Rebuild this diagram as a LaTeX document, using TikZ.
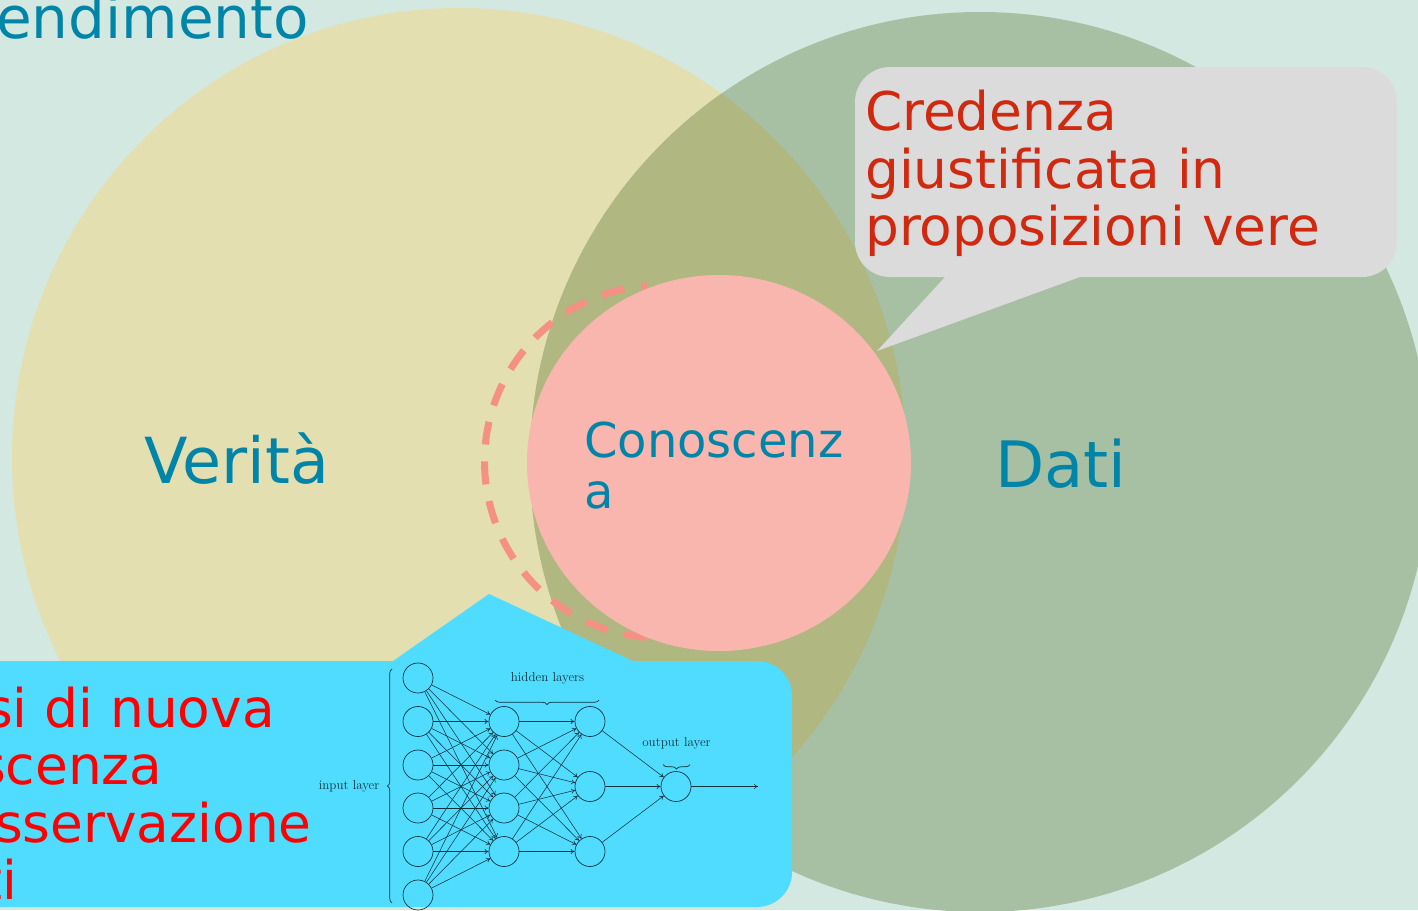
\documentclass[tikz,border=0pt]{standalone}
\usepackage{fontspec}
\setmainfont{DejaVu Sans}
\newfontfamily\lmfont{Latin Modern Roman}
\usetikzlibrary{decorations.pathreplacing,arrows.meta}
\definecolor{bgc}{HTML}{D2E8E1}
\definecolor{leftc}{HTML}{E4DFB0}
\definecolor{rightc}{HTML}{A7BFA3}
\definecolor{overc}{HTML}{B1B781}
\definecolor{pinkc}{HTML}{F8B6AE}
\definecolor{dashc}{HTML}{F59184}
\definecolor{bluec}{HTML}{50DCFF}
\definecolor{greyc}{HTML}{DBDBDB}
\definecolor{tealc}{HTML}{0085A8}
\definecolor{redc}{HTML}{D0290F}
\definecolor{netc}{HTML}{10333F}
\tikzset{
  lbl/.style={inner sep=0pt,anchor=base west,text=tealc},
  multi/.style={inner sep=0pt,anchor=north west,align=left},
  neuron/.style={circle,draw=netc,line width=0.7pt,minimum size=30pt,inner sep=0pt},
  link/.style={draw=netc,line width=0.55pt,-{To[length=4pt,width=5pt]}},
  netlabel/.style={inner sep=0pt,text=netc,font=\lmfont\fontsize{13}{15}\selectfont},
  bracket/.style={draw=netc,line width=0.7pt,decorate},
  redline/.style={lbl,text=red,font=\fontsize{53.3}{57.5}\selectfont},
}
\begin{document}
\begin{tikzpicture}[x=1pt,y=-1pt]
\clip (0,0) rectangle (1418,910);
\fill[bgc] (0,0) rectangle (1418,910);
% big ellipses
\fill[leftc] (459,457.5) ellipse [x radius=447pt,y radius=449.5pt];
\fill[rightc] (980,462) circle [radius=450pt];
\begin{scope}
  \clip (459,457.5) ellipse [x radius=447pt,y radius=449.5pt];
  \fill[overc] (980,462) circle [radius=450pt];
\end{scope}
% dashed ring
\draw[dashc,line width=7pt,dash pattern=on 23pt off 17pt,dash phase=17pt]
  plot[smooth,domain=94.6:268,samples=120] ({661+176.5*cos(\x)},{461.5-176.5*sin(\x)});
% centre
\fill[pinkc] (719,463) ellipse [x radius=192pt,y radius=188pt];
% callouts
\fill[greyc]
  (877,351) -- (945,277) -- (890,277) arc[start angle=270,end angle=180,radius=35pt]
  -- (855,102) arc[start angle=180,end angle=90,radius=35pt]
  -- (1362,67) arc[start angle=90,end angle=0,radius=35pt]
  -- (1397,242) arc[start angle=0,end angle=-90,radius=35pt]
  -- (1080,277) -- cycle;
\fill[bluec]
  (489,594) -- (633,661) -- (757,661) arc[start angle=90,end angle=0,radius=35pt]
  -- (792,872) arc[start angle=0,end angle=-90,radius=35pt]
  -- (-10,907) -- (-10,661) -- (393,661) -- cycle;
% texts
\node[lbl,font=\fontsize{58}{64}\selectfont] (t1) at (-4,38) {endimento};
\node[lbl,font=\fontsize{63.5}{66}\selectfont] (t2) at (144,483) {Verità};
\node[lbl,font=\fontsize{64}{66}\selectfont] (t3) at (995,487) {Dati};
\node[multi,text=tealc,font=\fontsize{48}{51.5}\selectfont] (t4) at (584,421.5) {Conoscenz\\a};
\node[multi,text=redc,font=\fontsize{53.3}{57.5}\selectfont] (t5) at (865,90) {Credenza\\giustificata in\\proposizioni vere};
\node[redline] (t6) at (-15,727) {si di nuova};
\node[redline] (t7) at (-22,784) {scenza};
\node[redline] (t8) at (-5,842) {sservazione};
\node[redline] (t9) at (-19,899) {ti};
% network
\foreach \n/\y in {1/678,2/721.5,3/765,4/808,5/851.5,6/895}
  \node[neuron] (i\n) at (418,\y) {};
\foreach \n/\y in {1/721.5,2/765,3/808,4/851.5}
  \node[neuron] (h\n) at (504,\y) {};
\foreach \n/\y in {1/721.5,2/786.5,3/851.5}
  \node[neuron] (k\n) at (590,\y) {};
\node[neuron] (o1) at (676,786.5) {};
\coordinate (out) at (758,786.5);
\foreach \a in {1,...,6}\foreach \b in {1,...,4}
  \draw[link] (i\a) -- (h\b);
\foreach \a in {1,...,4}\foreach \b in {1,...,3}
  \draw[link] (h\a) -- (k\b);
\foreach \a in {1,...,3}
  \draw[link] (k\a) -- (o1);
\draw[link] (o1) -- (out);
\node[netlabel] (hl) at (547.5,678) {hidden layers};
\node[netlabel] (ol) at (676.5,743) {output layer};
\node[netlabel,anchor=east] (il) at (379.5,786.5) {input layer};
\coordinate (b1a) at (495,700);\coordinate (b1b) at (599,700);
\coordinate (b2a) at (663,764.5);\coordinate (b2b) at (690,764.5);
\coordinate (b3a) at (392,903);\coordinate (b3b) at (392,669);
\draw[bracket,decoration={brace,amplitude=4.5pt,mirror}] (b1a) -- (b1b);
\draw[bracket,decoration={brace,amplitude=4.5pt,mirror}] (b2a) -- (b2b);
\draw[bracket,decoration={brace,amplitude=4.5pt,mirror}] (b3b) -- (b3a);
\end{tikzpicture}
\end{document}
